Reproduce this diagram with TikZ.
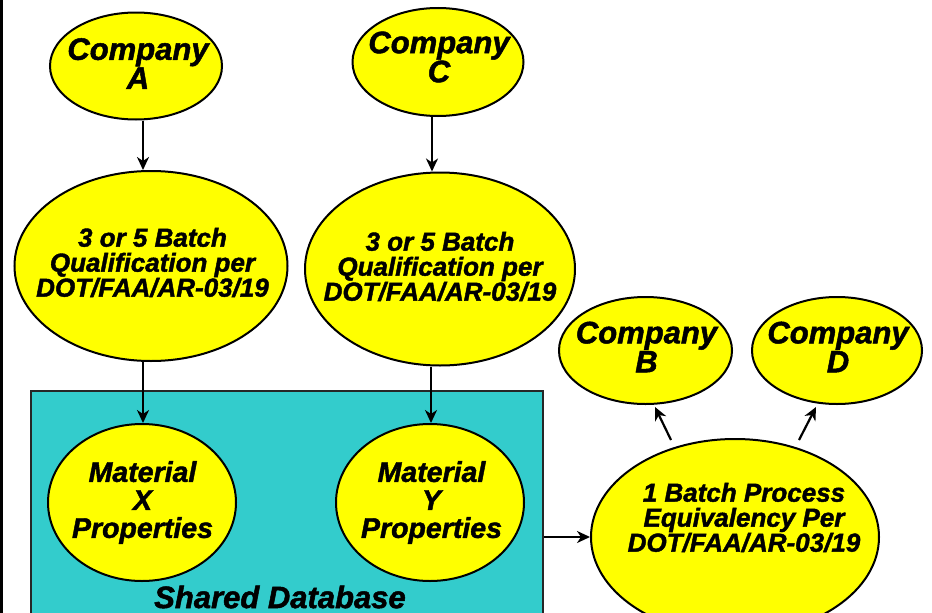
\documentclass[tikz,border=0pt]{standalone}
\usepackage{fontspec}
\setmainfont{Liberation Sans}
\newfontfamily\heavyfont{Liberation Sans Bold Italic}[FakeBold=1.6]
\usetikzlibrary{arrows.meta,shapes.geometric}
\definecolor{yellowfill}{HTML}{FFFF00}
\definecolor{dbcyan}{HTML}{33CCCC}
\begin{document}
\begin{tikzpicture}[x=1pt,y=-1pt,
  yell/.style={ellipse, draw=black, line width=2pt, fill=yellowfill, inner sep=0pt},
  ctext/.style={font=\heavyfont\fontsize{31}{29}\selectfont, align=center, inner sep=0pt},
  qtext/.style={font=\heavyfont\fontsize{26}{25}\selectfont, align=center, inner sep=0pt},
  mtext/.style={font=\heavyfont\fontsize{28.5}{28}\selectfont, align=center, inner sep=0pt},
  arr/.style={-{Stealth[length=13pt,width=12pt,inset=4pt]}, line width=2.2pt}]
\clip (0,0) rectangle (932,613);
\fill[white] (0,0) rectangle (932,613);
\fill[black] (0,0) rectangle (3,613);
% shared database box
\node[draw=black!85, line width=1.5pt, fill=dbcyan, minimum width=512pt, minimum height=249pt, inner sep=0pt] (db) at (287,515.5) {};
\node[ctext] (dbtext) at (280,597) {Shared Database};
% ellipses
\node[yell, minimum width=172pt, minimum height=107pt,
  label={[ctext, xshift=2pt, yshift=2.5pt]center:{Company\\A}}] (compA) at (136,66) {};
\node[yell, minimum width=171pt, minimum height=108pt,
  label={[ctext, xshift=1pt, yshift=5pt]center:{Company\\C}}] (compC) at (438,62) {};
\node[yell, minimum width=273pt, minimum height=190pt,
  label={[qtext, xshift=1.5pt, yshift=3.5pt]center:{3 or 5 Batch\\Qualification per\\DOT/FAA/AR-03/19}}] (qualA) at (151,266) {};
\node[yell, minimum width=270pt, minimum height=193pt,
  label={[qtext, xshift=0pt, yshift=2.5pt]center:{3 or 5 Batch\\Qualification per\\DOT/FAA/AR-03/19}}] (qualC) at (440,269) {};
\node[yell, minimum width=188pt, minimum height=157pt,
  label={[mtext, xshift=0.5pt]center:{Material\\X\\Properties}}] (matX) at (142,502.5) {};
\node[yell, minimum width=188pt, minimum height=157pt,
  label={[mtext, xshift=1.5pt]center:{Material\\Y\\Properties}}] (matY) at (430,502.5) {};
\node[yell, minimum width=173pt, minimum height=107pt,
  label={[ctext, xshift=1pt, yshift=3.5pt]center:{Company\\B}}] (compB) at (645.5,350.5) {};
\node[yell, minimum width=170pt, minimum height=107pt,
  label={[ctext, xshift=1pt, yshift=3.5pt]center:{Company\\D}}] (compD) at (837,350.5) {};
\node[yell, minimum width=288pt, minimum height=196pt,
  label={[qtext, xshift=9pt, yshift=19.5pt]center:{1 Batch Process\\Equivalency Per\\DOT/FAA/AR-03/19}}] (batch) at (735,537) {};
% connectors
\draw[arr] ([xshift=7pt]compA.south) -- ([xshift=-8pt]qualA.north);
\draw[arr] ([xshift=-6pt]compC.south) -- ([xshift=-8pt]qualC.north);
\draw[arr] ([xshift=-8pt]qualA.south) -- ([xshift=1pt]matX.north);
\draw[arr] ([xshift=-9pt]qualC.south) -- ([xshift=1pt]matY.north);
\draw[arr] (db.east |- batch.west) -- (batch.west);
\coordinate (bB) at (671,440);
\coordinate (eB) at (655,407);
\coordinate (bD) at (799,440);
\coordinate (eD) at (816,407);
\draw[arr] (bB) -- (eB);
\draw[arr] (bD) -- (eD);
\end{tikzpicture}
\end{document}
